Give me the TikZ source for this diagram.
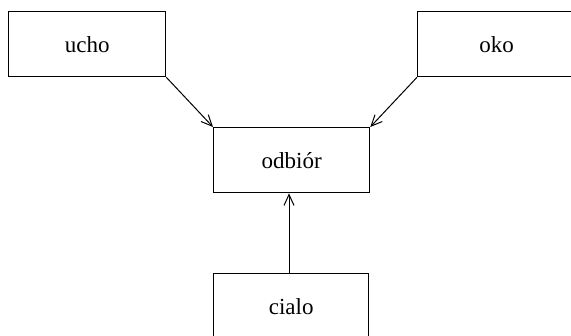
\documentclass[tikz,border=0pt]{standalone}
\usepackage{fontspec}
\setmainfont{Liberation Serif}
\usetikzlibrary{arrows.meta}
\begin{document}
\begin{tikzpicture}[x=1pt,y=-1pt,
  boxst/.style={draw,line width=1.3pt,minimum width=157pt,minimum height=65pt,inner sep=0pt,anchor=north west,font=\fontsize{23}{27}\selectfont},
  arr/.style={line width=1pt,-{Straight Barb[length=11pt,width=10pt,line width=1pt]}}]
\useasboundingbox (0,0) rectangle (571,336);
\node[boxst] (ucho) at (8,11) {ucho};
\node[boxst,minimum width=158pt] (oko) at (417,11) {oko};
\node[boxst,minimum width=156pt] (odb) at (213,127) {odbiór};
\node[boxst,minimum width=155pt] (cialo) at (213,273) {cialo};
\draw[arr] (ucho.south east) -- (odb.north west);
\draw[arr] (oko.south west) -- (odb.north east);
\draw[arr] (cialo.north -| 289,0) -- (odb.south -| 289,0);
\end{tikzpicture}
\end{document}
